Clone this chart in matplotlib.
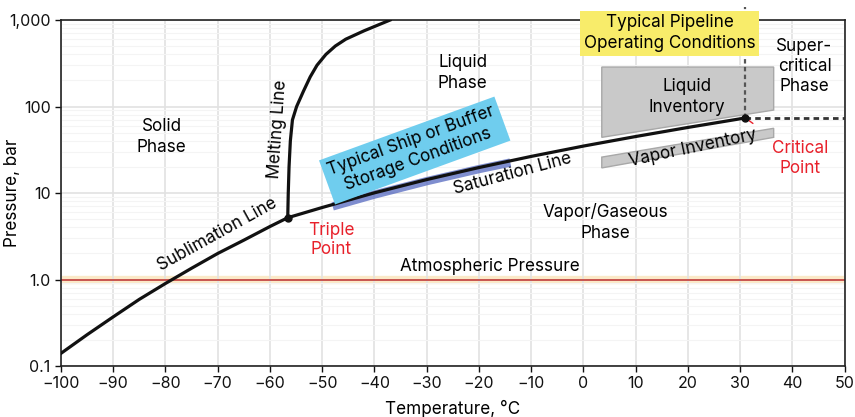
import numpy as np
import matplotlib.pyplot as plt
from matplotlib.patches import Polygon
from matplotlib.ticker import FixedLocator, FixedFormatter, NullFormatter

plt.rcParams['font.family'] = ['Inter', 'DejaVu Sans']

# sublimation line (solid <-> vapor)
subl_t = [-100, -95, -90, -85, -80, -75, -70, -65, -60, -56.6]
subl_p = [0.14, 0.23, 0.37, 0.59, 0.90, 1.35, 2.0, 2.85, 4.1, 5.18]

# melting line (solid <-> liquid)
melt_t = [-56.6, -56.5, -56.35, -56.1, -55.7, -54.9, -53.6, -52.3, -51.0, -49.3, -47.5, -45.5, -42.0, -37.0]
melt_p = [5.18, 10, 20, 40, 70, 100, 150, 220, 300, 400, 500, 600, 750, 1000]

# saturation line (liquid <-> vapor)
sat_t = [-56.6, -50, -40, -30, -20, -10, 0, 10, 20, 31.0]
sat_p = [5.18, 6.8, 10.05, 14.3, 19.7, 26.5, 34.9, 45.0, 57.3, 73.8]

triple = (-56.6, 5.18)
critical = (31.0, 73.8)

# ship / buffer storage band
ship_t = [-48, -40, -30, -20, -14]
ship_p = [7.0, 9.6, 13.7, 18.9, 22.5]

# gray boxes (pipeline operating conditions)
liq_inv_t = [3.5, 36.4, 36.4, 3.5]
liq_inv_p = [286, 286, 91, 44]
vap_inv_t = [3.5, 36.4, 36.4, 3.5]
vap_inv_p = [26, 56, 44, 19.5]

FS = 12.3

fig = plt.figure(figsize=(8.55, 4.17), dpi=100)
ax = fig.add_axes([0.0713, 0.1223, 0.9167, 0.8297])
ax.set_yscale('log')
ax.set_xlim(-100, 50)
ax.set_ylim(0.1, 1000)

# grid
ax.set_xticks(range(-100, 51, 10))
ax.yaxis.set_major_locator(FixedLocator([0.1, 1, 10, 100, 1000]))
ax.yaxis.set_major_formatter(FixedFormatter(['0.1', '1.0', '10', '100', '1,000']))
ax.yaxis.set_minor_formatter(NullFormatter())
ax.grid(True, which='major', color='#e2e2e2', lw=1.2)
ax.grid(True, which='minor', axis='y', color='#f4f4f4', lw=0.8)
ax.tick_params(axis='y', which='minor', length=0)
ax.tick_params(labelsize=11.5, length=4, width=1, colors='#111111')
for s in ax.spines.values():
    s.set_linewidth(1.2)
    s.set_color('#222222')

# atmospheric pressure
ax.axhline(1.0, color='#fbe9c8', lw=6, zorder=1)
ax.axhline(1.0, color='#c9554f', lw=1.4, zorder=2)
ax.text(-18, 1.12, 'Atmospheric Pressure', fontsize=FS, ha='center', va='bottom')

# gray inventory boxes
ax.add_patch(Polygon(list(zip(liq_inv_t, liq_inv_p)), closed=True,
                     fc='#c9c9c9', ec='#a8a8a8', lw=1, zorder=3))
ax.add_patch(Polygon(list(zip(vap_inv_t, vap_inv_p)), closed=True,
                     fc='#c9c9c9', ec='#a8a8a8', lw=1, zorder=3))

# ship band
ax.plot(ship_t, ship_p, color='#5468c0', lw=6, alpha=0.75,
        solid_capstyle='butt', zorder=4)

# phase lines
ax.plot(subl_t, subl_p, color='#111111', lw=2.3, zorder=5)
ax.plot(melt_t, melt_p, color='#111111', lw=2.3, zorder=5)
ax.plot(sat_t, sat_p, color='#111111', lw=2.3, zorder=5)

# critical point dotted lines
ax.plot([critical[0], critical[0]], [critical[1], 1400], color='#555555',
        lw=1.6, ls=(0, (2, 1.5)), zorder=4, clip_on=False)
ax.plot([critical[0], 50], [critical[1], critical[1]], color='#333333',
        lw=2, ls=(0, (2, 1.5)), zorder=4)

ax.plot(*triple, 'o', color='#111111', ms=5, zorder=6)
ax.plot(*critical, 'o', color='#111111', ms=5, zorder=6)

# labels
ax.text(-80.7, 44, 'Solid\nPhase', fontsize=FS, ha='center', va='center', linespacing=1.3)
ax.text(-23.1, 244, 'Liquid\nPhase', fontsize=FS, ha='center', va='center', linespacing=1.3)
ax.text(4.1, 4.6, 'Vapor/Gaseous\nPhase', fontsize=FS, ha='center', va='center', linespacing=1.3)
ax.text(42.3, 290, 'Super-\ncritical\nPhase', fontsize=FS, ha='center', va='center', linespacing=1.2)
ax.text(19.8, 128, 'Liquid\nInventory', fontsize=FS, ha='center', va='center', linespacing=1.3, zorder=6)
ax.text(21, 33, 'Vapor Inventory', fontsize=FS, ha='center', va='center', rotation=12, zorder=6)
ax.text(-13.5, 16.5, 'Saturation Line', fontsize=FS, ha='center', va='center', rotation=15)
ax.text(-70, 3.3, 'Sublimation Line', fontsize=FS, ha='center', va='center', rotation=29)
ax.text(-58.5, 55, 'Melting Line', fontsize=FS, ha='center', va='center', rotation=86)

ax.annotate('Triple\nPoint', xy=triple, xytext=(-48.3, 2.85), fontsize=FS,
            color='#e8202a', ha='center', va='center', linespacing=1.2,
            arrowprops=dict(arrowstyle='-', color='#e8202a', lw=1,
                            shrinkA=13, shrinkB=2))
ax.annotate('Critical\nPoint', xy=critical, xytext=(41.5, 25), fontsize=FS,
            color='#e8202a', ha='center', va='center', linespacing=1.2,
            arrowprops=dict(arrowstyle='-', color='#e8202a', lw=1,
                            shrinkA=17, shrinkB=2))

ax.text(-32.3, 31, 'Typical Ship or Buffer\nStorage Conditions', fontsize=FS,
        ha='center', va='center', rotation=20, linespacing=1.2, zorder=7,
        bbox=dict(boxstyle='square,pad=0.3', fc='#6fcdee', ec='none'))
ax.text(16.5, 700, 'Typical Pipeline\nOperating Conditions', fontsize=FS,
        ha='center', va='center', linespacing=1.3, zorder=7, clip_on=False,
        bbox=dict(boxstyle='square,pad=0.2', fc='#f8ec6a', ec='none'))

ax.set_xlabel('Temperature, °C', fontsize=FS, labelpad=6)
ax.set_ylabel('Pressure, bar', fontsize=FS)
ax.yaxis.set_label_coords(-0.051, 0.5)

fig.savefig('out.png', dpi=100)
